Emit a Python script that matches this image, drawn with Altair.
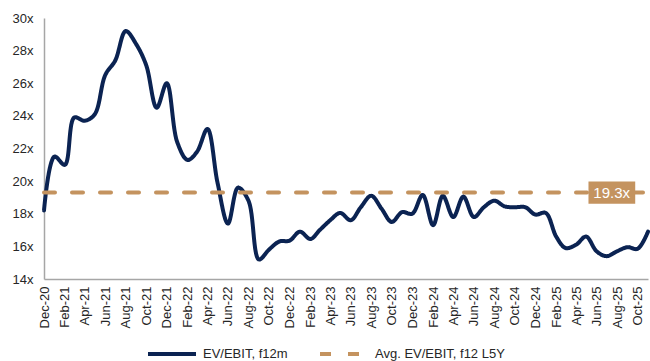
import altair as alt
import pandas as pd

# ---- data ----
start_month = "2020-12-01"
n_months = 60
ev_ebit = [18.2, 21.5, 21.0, 23.9, 23.7, 24.1, 26.5, 27.4, 29.2, 28.4,
           27.1, 24.5, 26.0, 22.4, 21.3, 21.8, 23.2, 19.9, 17.4, 19.6,
           18.8, 15.2, 15.8, 16.3, 16.35, 16.9, 16.45, 17.0, 17.6, 18.05,
           17.6, 18.4, 19.1, 18.3, 17.5, 18.1, 18.0, 19.15, 17.3, 19.1,
           17.8, 19.05, 17.8, 18.4, 18.8, 18.45, 18.4, 18.4, 17.95, 18.05,
           16.6, 15.9, 16.1, 16.6, 15.7, 15.4, 15.7, 15.95, 15.85, 16.9]
avg_value = 19.3
series_names = ["EV/EBIT, f12m", "Avg. EV/EBIT, f12 L5Y"]
series_colors = ["#0B2352", "#C4935F"]
y_ticks = [14, 16, 18, 20, 22, 24, 26, 28, 30]
label_text = ["19.3x"]
label_center = ["2025-07-16"]
label_box_x = ["2025-05-08"]
label_box_x2 = ["2025-09-24"]
label_box_y = [19.98]
label_box_y2 = [18.62]

months = pd.date_range(start_month, periods=n_months, freq="MS")
tick_months = months[::2]

df_main = pd.DataFrame({"date": months.strftime("%Y-%m-%d"),
                        "value": ev_ebit, "series": series_names[0]})
df_avg = pd.DataFrame({"date": [months[0].strftime("%Y-%m-%d"), months[-1].strftime("%Y-%m-%d")],
                       "value": [avg_value, avg_value], "series": series_names[1]})
df_lines = pd.concat([df_main, df_avg], ignore_index=True)

df_box = pd.DataFrame({"x": label_box_x, "x2": label_box_x2,
                       "y": label_box_y, "y2": label_box_y2})
df_label = pd.DataFrame({"date": label_center, "value": [avg_value], "text": label_text})

FONT = "Liberation Sans"
x_scale = alt.Scale(type="utc", domain=[months[0].strftime("%Y-%m-%d"), months[-1].strftime("%Y-%m-%d")])
y_scale = alt.Scale(domain=[14, 30], nice=False)

tick_values = [alt.DateTime(year=d.year, month=d.month, date=1, utc=True) for d in tick_months]

x_axis = alt.Axis(values=tick_values, labelExpr="utcFormat(datum.value, '%b-%y')",
                  labelAngle=-90, ticks=False, grid=False,
                  domainColor="#A6A6A6", domainWidth=1.5,
                  labelFont=FONT, labelFontSize=13, labelColor="#262626",
                  labelPadding=7, labelOverlap=False, title=None)
y_axis = alt.Axis(values=y_ticks, labelExpr="datum.value + 'x'",
                  ticks=False, grid=False, labelOverlap=False,
                  domainColor="#A6A6A6", domainWidth=1.5,
                  labelFont=FONT, labelFontSize=13, labelColor="#262626",
                  labelPadding=11, title=None)

legend_cfg = dict(title=None, orient="none", legendX=102, legendY=310,
                  direction="horizontal", symbolType="stroke",
                  symbolSize=2304, symbolStrokeWidth=4,
                  labelFont=FONT, labelFontSize=13, labelColor="#262626",
                  labelOffset=5, columnPadding=24)

lines = alt.Chart(df_lines).mark_line(
    interpolate="catmull-rom", strokeWidth=4, strokeCap="round"
).encode(
    x=alt.X("date:T", scale=x_scale, axis=x_axis),
    y=alt.Y("value:Q", scale=y_scale, axis=y_axis),
    color=alt.Color("series:N", scale=alt.Scale(domain=series_names, range=series_colors),
                    legend=alt.Legend(**legend_cfg)),
    strokeDash=alt.StrokeDash("series:N",
                              scale=alt.Scale(domain=series_names, range=[[1, 0], [11, 17]]),
                              legend=alt.Legend(**legend_cfg)),
    order=alt.Order("series:N", sort="descending"),
)

box = alt.Chart(df_box).mark_rect(color=series_colors[1]).encode(
    x=alt.X("x:T", scale=x_scale, axis=x_axis), x2="x2:T",
    y=alt.Y("y:Q", scale=y_scale, axis=y_axis), y2="y2:Q",
)

label = alt.Chart(df_label).mark_text(
    color="white", font=FONT, fontSize=15, baseline="middle", align="center"
).encode(
    x=alt.X("date:T", scale=x_scale, axis=x_axis),
    y=alt.Y("value:Q", scale=y_scale, axis=y_axis),
    text="text:N",
)

chart = alt.layer(lines, box, label).properties(
    width=604, height=261,
    autosize=alt.AutoSizeParams(type="none"),
    padding={"left": 44, "top": 18, "right": 2, "bottom": 82},
).configure(background="white").configure_view(stroke=None)

chart.save("out.html", embed_options={"renderer": "svg", "actions": False})
